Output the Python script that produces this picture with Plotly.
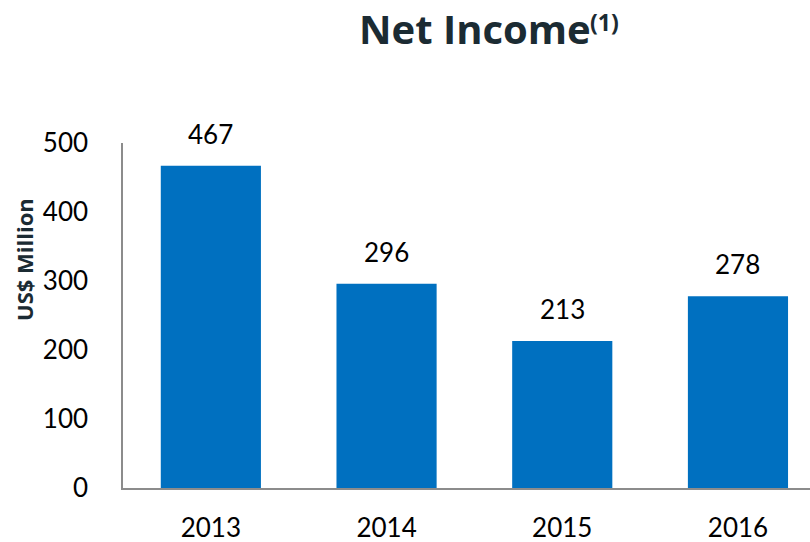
import plotly.graph_objects as go

years = ["2013", "2014", "2015", "2016"]
net_income = [467, 296, 213, 278]
y_ticks = [0, 100, 200, 300, 400, 500]

fig = go.Figure()
fig.add_trace(go.Bar(
    x=years, y=net_income,
    marker=dict(color="#0070C0", line=dict(width=0)),
    width=0.57,
    hoverinfo="skip",
))

for i, v in enumerate(net_income):
    fig.add_annotation(x=i, y=v, text=str(v), showarrow=False,
                       yanchor="bottom", yshift=14,
                       font=dict(family="Lato", size=26, color="#000000"))

fig.add_annotation(xref="paper", yref="paper", x=0.5124, y=1.0, yshift=115,
                   text="<b>Net Income</b>",
                   showarrow=False, xanchor="center", yanchor="middle",
                   font=dict(family="Open Sans", size=40, color="#1B2B33"))
fig.add_annotation(xref="paper", yref="paper", x=0.7015, y=1.0, yshift=121,
                   text="<b>(1)</b>",
                   showarrow=False, xanchor="center", yanchor="middle",
                   font=dict(family="Open Sans", size=23, color="#1B2B33"))

fig.add_annotation(xref="paper", yref="paper", x=0, xshift=-99, y=0.661,
                   text="<b>US$ Million</b>", textangle=-90,
                   showarrow=False, xanchor="center", yanchor="middle",
                   font=dict(family="Open Sans", size=22, color="#1B2B33"))

fig.update_layout(
    width=810, height=542,
    margin=dict(l=123, r=0, t=143, b=54, autoexpand=False),
    paper_bgcolor="white", plot_bgcolor="white",
    showlegend=False,
    xaxis=dict(type="category", range=[-0.5, 3.41], showgrid=False, zeroline=False,
               showline=True, linecolor="#8C8C8C", linewidth=1.5,
               ticks="", ticklabelstandoff=16, automargin=False,
               tickfont=dict(family="Lato", size=26, color="#000000"),
               fixedrange=True),
    yaxis=dict(range=[0, 500], tickvals=y_ticks, showgrid=False, zeroline=False,
               showline=True, linecolor="#8C8C8C", linewidth=1.5,
               ticks="", ticklabelstandoff=28, automargin=False,
               tickfont=dict(family="Lato", size=26, color="#000000"),
               fixedrange=True),
)

fig.write_html("out.html", config={"displayModeBar": False},
               post_script="document.body.style.margin='0';document.body.style.overflow='hidden';")
